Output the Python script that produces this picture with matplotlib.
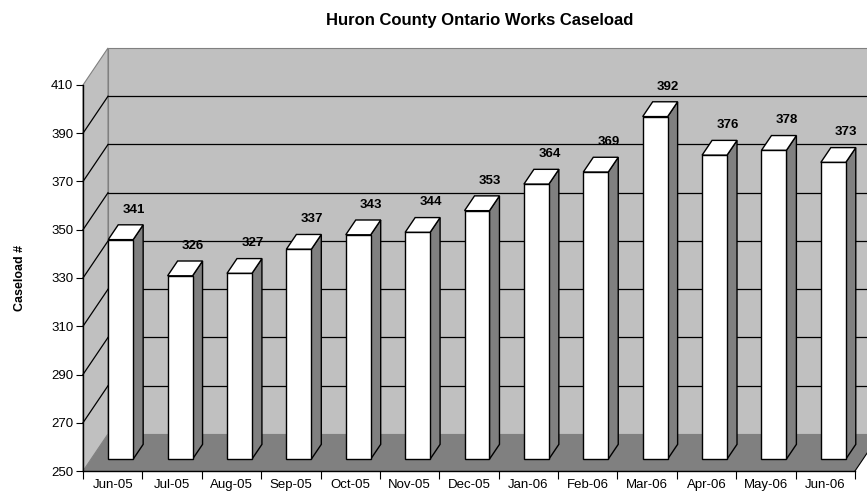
import matplotlib
matplotlib.use("Agg")
import matplotlib.pyplot as plt
from matplotlib.patches import Polygon

plt.rcParams["font.family"] = ["Liberation Sans", "DejaVu Sans"]

months = ["Jun-05", "Jul-05", "Aug-05", "Sep-05", "Oct-05", "Nov-05", "Dec-05",
          "Jan-06", "Feb-06", "Mar-06", "Apr-06", "May-06", "Jun-06"]
caseload = [341, 326, 327, 337, 343, 344, 353, 364, 369, 392, 376, 378, 373]
yticks = list(range(250, 411, 20))

ymin, ymax = 250, 410
n = len(months)
# depth of the fake 3d box, in data units (x: categories, y: caseload)
DX, DY = 0.421, 15.34
f0, f1 = 0.32, 0.72  # bar front / back depth fractions
bw = 0.42

fig = plt.figure(figsize=(8.67, 4.94), dpi=100)
ax = fig.add_axes([83 / 867, 23 / 494, 772 / 867, 386 / 494])
ax.set_xlim(0, n)
ax.set_ylim(ymin, ymax)
ax.set_facecolor("none")

light = "#c0c0c0"
dark = "#808080"

def poly(pts, fc, ec="none", lw=0.8, z=1):
    ax.add_patch(Polygon(pts, closed=True, facecolor=fc, edgecolor=ec,
                         linewidth=lw, zorder=z, clip_on=False))

# back wall, left wall, floor
poly([(DX, ymin + DY), (n + DX, ymin + DY), (n + DX, ymax + DY), (DX, ymax + DY)], light, dark)
poly([(0, ymin), (DX, ymin + DY), (DX, ymax + DY), (0, ymax)], light, dark)
poly([(0, ymin), (n, ymin), (n + DX, ymin + DY), (DX, ymin + DY)], dark)

for v in yticks[1:-1]:
    ax.plot([DX, n + DX], [v + DY, v + DY], color="black", lw=0.9, zorder=2, clip_on=False)
    ax.plot([0, DX], [v, v + DY], color="black", lw=0.9, zorder=2, clip_on=False)
ax.plot([n, n + DX], [ymin, ymin + DY], color="black", lw=0.8, zorder=2, clip_on=False)

# bars
for i, val in enumerate(caseload):
    x0 = i + 0.5 - bw / 2 + DX * f0
    x1 = x0 + bw
    b0 = ymin + DY * f0
    t0 = val + DY * f0
    ddx, ddy = DX * (f1 - f0), DY * (f1 - f0)
    poly([(x1, b0), (x1 + ddx, b0 + ddy), (x1 + ddx, t0 + ddy), (x1, t0)], dark, "black", 1.0, 3)
    poly([(x0, t0), (x1, t0), (x1 + ddx, t0 + ddy), (x0 + ddx, t0 + ddy)], "white", "black", 1.0, 3)
    poly([(x0, b0), (x1, b0), (x1, t0), (x0, t0)], "white", "black", 1.0, 3)
    ax.annotate(str(val), ((x0 + x1) / 2 + ddx + 0.05, t0 + ddy), xytext=(0, 11),
                textcoords="offset points", ha="center", va="center",
                fontsize=9.5, fontweight="bold", zorder=4, annotation_clip=False)

for s in ["top", "right"]:
    ax.spines[s].set_visible(False)
for s in ["left", "bottom"]:
    ax.spines[s].set_linewidth(1.0)
    ax.spines[s].set_zorder(5)

ax.set_yticks(yticks)
ax.tick_params(axis="y", direction="out", length=5, labelsize=9.5, pad=2)
ax.set_xticks(range(n + 1))
ax.set_xticklabels([])
ax.set_xticks([i + 0.5 for i in range(n)], minor=True)
ax.set_xticklabels(months, minor=True)
ax.tick_params(axis="x", which="major", direction="out", length=6)
ax.tick_params(axis="x", which="minor", length=0, labelsize=9.5, pad=6)

ax.set_ylabel("Caseload #", fontsize=9, fontweight="bold", labelpad=18)
fig.text(480 / 867, 1 - 20 / 494, "Huron County Ontario Works Caseload",
         ha="center", va="center", fontsize=12, fontweight="bold")

fig.savefig("out.png", dpi=100)
